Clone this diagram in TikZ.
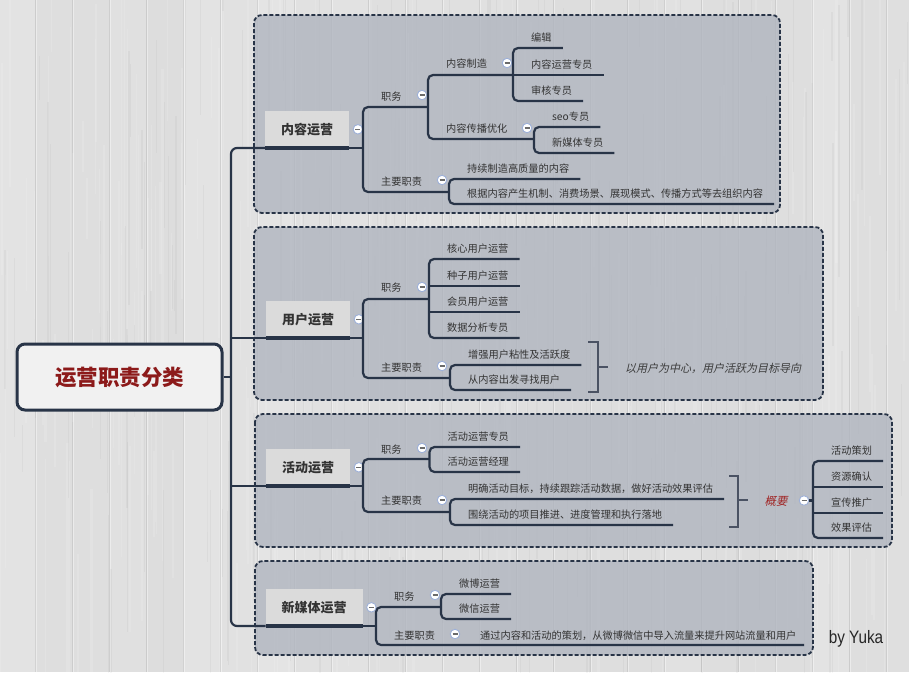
\documentclass[tikz,border=0pt]{standalone}
\usepackage{fontspec}
\usepackage{graphicx}
\setmainfont{Noto Sans CJK SC}
\newfontfamily\slantcjk{Noto Sans CJK SC}[FakeSlant=0.22]
\newfontfamily\yukafont{Liberation Sans}
\usetikzlibrary{calc}
\definecolor{navy}{HTML}{283447}
\definecolor{bgc}{HTML}{DEDEDE}
\definecolor{panelc}{HTML}{B0B5BF}
\definecolor{boxc}{HTML}{DBDBDB}
\definecolor{rootfill}{HTML}{F1F1F1}
\definecolor{rootred}{HTML}{8C1A1A}
\definecolor{leafc}{HTML}{333333}
\definecolor{mainc}{HTML}{333333}
\definecolor{foldc}{HTML}{9DB0D8}
\definecolor{foldm}{HTML}{6B6B6B}
\definecolor{brc}{HTML}{4A5263}
\definecolor{sumred}{HTML}{A02424}
\definecolor{sumtext}{HTML}{3C3C3C}
\tikzset{
  conn/.style={draw=navy, line width=2.2pt},
  uline/.style={draw=navy, line width=4pt},
  leaf/.style={anchor=west, inner sep=0pt, text height=8.5pt, text depth=1.5pt,
    font=\fontsize{10.2}{12}\selectfont, text=leafc},
  mainbox/.style={anchor=south west, fill=boxc, inner xsep=16pt, inner ysep=0pt,
    minimum height=37pt, font=\fontsize{13}{15}\selectfont\bfseries, text=mainc},
  fold/.style={circle, minimum size=9.5pt, inner sep=0pt, fill=white, draw=foldc,
    line width=0.9pt, path picture={\draw[foldm, line width=1.3pt]
      ([xshift=-2.5pt]path picture bounding box.center) --
      ([xshift=2.5pt]path picture bounding box.center);}},
  panel/.style={draw=navy, line width=1.8pt, dash pattern=on 4pt off 2pt,
    rounded corners=8pt, fill=panelc, fill opacity=0.8},
  bracket/.style={draw=brc, line width=1.3pt},
}
\newcommand\lf[4]{%
  \node[leaf] (#1) at (#2,#3-10.5) {#4};
  \path (#1.east) ++(11pt,0pt) coordinate (#1-t);
  \coordinate (#1-e) at (#1-t |- #2,#3);
}
\begin{document}
\begin{tikzpicture}[x=1pt,y=-1pt]
\useasboundingbox (0,0) rectangle (909,672);
% background: light wooden planks
\begin{scope}
\clip (0,0) rectangle (909,672);
\fill[bgc] (0,0) rectangle (909,672);
\pgfmathsetseed{7}
\foreach \k in {0,...,25}{
  \pgfmathsetmacro\sh{86.5+rnd*3}
  \fill[white!\sh!black] (\k*37-2,0) rectangle ++(37,672);
  \draw[black, opacity=0.08, line width=0.9pt] (\k*37-2,0) -- ++(0,672);
  \draw[white, opacity=0.4, line width=0.8pt] (\k*37-0.8,0) -- ++(0,672);
}
\foreach \i in {1,...,220}{
  \pgfmathsetmacro\xa{rnd*909}
  \pgfmathsetmacro\wa{0.5+rnd*2}
  \pgfmathsetmacro\ya{rnd*672-100}
  \pgfmathsetmacro\ha{40+rnd*300}
  \fill[white,opacity=0.12] (\xa,\ya) rectangle ++(\wa,\ha);
}
\foreach \i in {1,...,160}{
  \pgfmathsetmacro\xa{rnd*909}
  \pgfmathsetmacro\wa{0.5+rnd*1.5}
  \pgfmathsetmacro\ya{rnd*672-100}
  \pgfmathsetmacro\ha{30+rnd*250}
  \fill[black,opacity=0.03] (\xa,\ya) rectangle ++(\wa,\ha);
}
\end{scope}
% panels
\path[panel] (254,15) rectangle (780,213);
\path[panel] (254,227) rectangle (823,400);
\path[panel] (255,414) rectangle (892,547);
\path[panel] (255,561) rectangle (813,655);
% root
\node[draw=navy, line width=3pt, fill=rootfill, rounded corners=8pt,
  minimum width=205pt, minimum height=66pt,
  font=\fontsize{21.5}{24}\selectfont\bfseries, text=rootred] (root) at (119.5,377) {运营职责分类};
% main topics
\node[mainbox] (m1) at (265,148) {内容运营};
\node[mainbox] (m2) at (266,338) {用户运营};
\node[mainbox] (m3) at (266,486) {活动运营};
\node[mainbox] (m4) at (265.5,626) {新媒体运营};
\draw[conn, rounded corners=6pt] (m1.south west) -- (231,148) -- (231,626) -- (m4.south west);
\draw[conn] (231,338) -- (m2.south west);
\draw[conn] (231,486) -- (m3.south west);
\draw[conn] (root.east) -- (231,377);
\foreach \m in {m1,m2,m3,m4}{\draw[uline] (\m.south west) -- (\m.south east);}
\node[fold] at ([xshift=8.5pt]m1.east) {};
\node[fold] at ([xshift=8.5pt]m2.east) {};
\node[fold] at ([xshift=8.5pt]m3.east) {};
\node[fold] at ([xshift=8.5pt]m4.east) {};

% ===== 内容运营 =====
\draw[conn] (m1.south east) -- (363,148);
\node[leaf] (g1a) at (381,96.5) {职务};
\node[fold] at (422,95) {};
\node[leaf] (g1b) at (381,181.5) {主要职责};
\node[fold] at (442,180) {};
\draw[conn, rounded corners=5pt] (428,107) -- (363,107) -- (363,192) -- (449,192);
\node[leaf] (g1a1) at (446,64) {内容制造};
\node[fold] at (507,63) {};
\node[leaf] (g1a2) at (446,128.5) {内容传播优化};
\node[fold] at (527,128) {};
\draw[conn, rounded corners=5pt] (513,75) -- (428,75) -- (428,139) -- (534,139);
\lf{bj}{531}{48}{编辑}
\lf{nyzy}{531}{75}{内容运营专员}
\lf{shzy}{531}{101}{审核专员}
\draw[conn, rounded corners=5pt] (bj-e) -- (513,48) -- (513,101) -- (shzy-e);
\draw[conn] (513,75) -- (nyzy-e);
\lf{seo}{552}{127}{seo专员}
\lf{xmt}{552}{153}{新媒体专员}
\draw[conn, rounded corners=5pt] (seo-e) -- (534,127) -- (534,153) -- (xmt-e);
\lf{cx}{467}{179}{持续制造高质量的内容}
\lf{gj}{467}{204}{根据内容产生机制、消费场景、展现模式、传播方式等去组织内容}
\draw[conn, rounded corners=5pt] (cx-e) -- (449,179) -- (449,204) -- (gj-e);

% ===== 用户运营 =====
\draw[conn] (m2.south east) -- (363,338);
\node[leaf] (g2a) at (381,288) {职务};
\node[fold] at (422,287) {};
\node[leaf] (g2b) at (381,368) {主要职责};
\node[fold] at (442,366) {};
\draw[conn, rounded corners=5pt] (429,299) -- (363,299) -- (363,378) -- (450,378);
\lf{hx}{447}{259}{核心用户运营}
\lf{zz}{447}{286}{种子用户运营}
\lf{hy}{447}{312}{会员用户运营}
\lf{sj}{447}{338}{数据分析专员}
\draw[conn, rounded corners=5pt] (hx-e) -- (429,259) -- (429,338) -- (sj-e);
\draw[conn] (429,286) -- (zz-e);
\draw[conn] (429,312) -- (hy-e);
\lf{zq}{468}{365}{增强用户粘性及活跃度}
\lf{cn}{468}{390}{从内容出发寻找用户}
\draw[conn, rounded corners=5pt] (zq-e) -- (450,365) -- (450,390) -- (cn-e);
\draw[bracket] (588,342) -- (598,342) -- (598,392) -- (588,392);
\node[anchor=west, inner sep=0pt, font=\slantcjk\fontsize{11}{13}\selectfont, text=sumtext] (yh) at (625,368) {以用户为中心，用户活跃为目标导向};
\draw[bracket] (598,367) -- (608,367);

% ===== 活动运营 =====
\draw[conn] (m3.south east) -- (363,486);
\node[leaf] (g3a) at (381,449.5) {职务};
\node[fold] at (422,448) {};
\node[leaf] (g3b) at (381,501) {主要职责};
\node[fold] at (442,500) {};
\draw[conn, rounded corners=5pt] (429.5,459) -- (363,459) -- (363,512) -- (450,512);
\lf{hdzy}{447.5}{447}{活动运营专员}
\lf{hdjl}{447.5}{472}{活动运营经理}
\draw[conn, rounded corners=5pt] (hdzy-e) -- (429.5,447) -- (429.5,472) -- (hdjl-e);
\lf{mq}{468}{499}{明确活动目标，持续跟踪活动数据，做好活动效果评估}
\lf{wr}{468}{525}{围绕活动的项目推进、进度管理和执行落地}
\draw[conn, rounded corners=5pt] (mq-e) -- (450,499) -- (450,525) -- (wr-e);
\draw[bracket] (729,476) -- (738,476) -- (738,527) -- (729,527);
\draw[bracket] (738,500) -- (747.5,500);
\node[inner sep=0pt, font=\slantcjk\fontsize{11.4}{13}\selectfont, text=sumred] (gy) at (776,501) {概要};
\node[fold] (fg) at (804,500.5) {};
\draw[conn] (fg.east) -- (813,500.5);
\lf{ch}{831}{461}{活动策划}
\lf{zy}{831}{487}{资源确认}
\lf{xc}{831}{513}{宣传推广}
\lf{xg}{831}{538}{效果评估}
\draw[conn, rounded corners=5pt] (ch-e) -- (813,461) -- (813,538) -- (xg-e);
\draw[conn] (813,487) -- (zy-e);
\draw[conn] (813,513) -- (xc-e);

% ===== 新媒体运营 =====
\draw[conn] (m4.south east) -- (376,626);
\node[leaf] (g4a) at (394,597) {职务};
\node[fold] at (435,595) {};
\node[leaf] (g4b) at (394,636) {主要职责};
\node[fold] at (455,634) {};
\draw[conn, rounded corners=5pt] (441,607) -- (376,607) -- (376,645) -- (804,645);
\lf{wb}{459}{594}{微博运营}
\lf{wx}{459}{619}{微信运营}
\draw[conn, rounded corners=5pt] (wb-e) -- (441,594) -- (441,619) -- (wx-e);
\node[leaf] (tg) at (480,635.5) {通过内容和活动的策划，从微博微信中导入流量来提升网站流量和用户};

% signature
\node[inner sep=0pt, text=black!85] (sig) at (856,639) {\scalebox{0.85}[1]{\yukafont\fontsize{18}{20}\selectfont by Yuka}};
\end{tikzpicture}
\end{document}
